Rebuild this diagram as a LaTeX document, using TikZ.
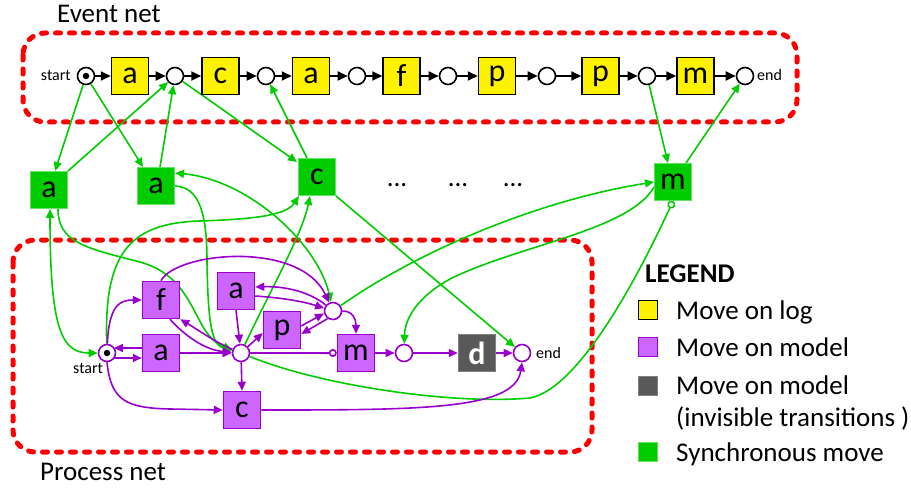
\documentclass[tikz,border=0pt]{standalone}
\usepackage{fontspec}
\setmainfont{Carlito}
\usetikzlibrary{arrows.meta,backgrounds}

\definecolor{synG}{RGB}{0,204,0}
\definecolor{modP}{RGB}{204,102,255}
\definecolor{modPd}{RGB}{153,0,204}
\definecolor{invG}{RGB}{89,89,89}
\definecolor{netR}{RGB}{255,0,0}

\tikzset{
  trans/.style={minimum size=37pt, inner sep=0pt, font=\fontsize{32}{32}\selectfont},
  logmove/.style={trans, fill=yellow, draw=black, line width=1.5pt},
  modmove/.style={trans, fill=modP, draw=modPd, line width=1.5pt},
  syncmove/.style={trans, fill=synG, draw=synG!60!white, line width=1pt},
  invmove/.style={trans, fill=invG, draw=gray, line width=1.5pt, text=white,
                  font=\fontsize{32}{32}\selectfont\bfseries},
  evplace/.style={circle, draw=black, fill=white, line width=1.6pt, minimum size=17pt, inner sep=0pt},
  prplace/.style={evplace, draw=modPd},
  token/.style={circle, fill=black, minimum size=6.5pt, inner sep=0pt},
  netbox/.style={draw=netR, line width=5pt, dash pattern=on 5pt off 9pt, line cap=round, rounded corners=22pt},
  lbl/.style={font=\fontsize{27}{30}\selectfont, inner sep=0pt},
  sml/.style={font=\fontsize{16}{18}\selectfont, inner sep=0pt},
  legsq/.style={minimum size=19pt, inner sep=0pt, line width=1.5pt},
  flowB/.style={-{Triangle[length=10pt,width=9pt]}, line width=1.8pt, black},
  flowG/.style={->, line width=1.6pt, synG},
  flowP/.style={->, line width=1.6pt, modPd},
}

\begin{document}
\begin{tikzpicture}[x=1pt, y=-1pt, >={Triangle[length=9pt,width=8pt]}]
\useasboundingbox (0,0) rectangle (911,492);

% ---------- event net ----------
\node[evplace] (e0) at (86,76) {};
\node[token] (e0tok) at (86,76) {};
\node[logmove] (t1) at (130,76) {a};
\node[evplace] (e1) at (175,76) {};
\node[logmove] (t2) at (220.5,76) {c};
\node[evplace] (e2) at (266,76) {};
\node[logmove] (t3) at (311,76) {a};
\node[evplace] (e3) at (357,76) {};
\node[logmove] (t4) at (401.5,76) {f};
\node[evplace] (e4) at (448,76) {};
\node[logmove] (t5) at (497,76) {p};
\node[evplace] (e5) at (547,76) {};
\node[logmove] (t6) at (600.5,76) {p};
\node[evplace] (e6) at (647,76) {};
\node[logmove] (t7) at (695.5,76) {m};
\node[evplace] (e7) at (745,76) {};
\node[sml, anchor=base east] (evstart) at (71,81) {start};
\node[sml, anchor=base west] (evend) at (757,81) {end};

% ---------- synchronous moves ----------
\node[syncmove] (sa1) at (49,190) {a};
\node[syncmove] (sa2) at (156,186) {a};
\node[syncmove] (sc) at (317,177) {c};
\node[syncmove] (sm) at (673,182) {m};
\node[lbl, anchor=base] (dots1) at (397,187) {...};
\node[lbl, anchor=base] (dots2) at (458,187) {...};
\node[lbl, anchor=base] (dots3) at (513,187) {...};

% ---------- process net ----------
\node[prplace] (ps) at (107,353) {};
\node[token] (pstok) at (107,353) {};
\node[modmove] (pf) at (161,300) {f};
\node[modmove] (pa) at (161,353) {a};
\node[prplace] (pc0) at (241,353) {};
\node[modmove] (pa2) at (236,291) {a};
\node[modmove] (pp) at (282,330) {p};
\node[modmove] (pcc) at (242,410) {c};
\node[prplace] (pq) at (333,311) {};
\node[modmove] (pm) at (356,353) {m};
\node[prplace] (pr) at (404,353) {};
\node[invmove] (pd) at (477,353) {d};
\node[prplace] (pe) at (522,353) {};
\node[sml, anchor=base west] (prstart) at (73,373) {start};
\node[sml, anchor=base west] (prend) at (536,358) {end};

% ---------- labels ----------
\node[lbl, anchor=base west] (evlabel) at (57,23) {Event net};
\node[lbl, anchor=base west] (prlabel) at (40,480) {Process net};

% ---------- legend ----------
\node[lbl, font=\fontsize{27}{30}\selectfont\bfseries, anchor=base west] (leghead) at (645,282) {LEGEND};
\node[legsq, fill=yellow, draw=black] (lg1) at (648,310) {};
\node[legsq, fill=modP, draw=modPd] (lg2) at (648,347) {};
\node[legsq, fill=invG, draw=gray] (lg3) at (648,386) {};
\node[legsq, fill=synG, draw=synG!60!white] (lg4) at (648,452) {};
\node[lbl, anchor=base west] (lt1) at (676,319) {Move on log};
\node[lbl, anchor=base west] (lt2) at (676,356) {Move on model};
\node[lbl, anchor=base west] (lt3) at (676,394) {Move on model};
\node[lbl, anchor=base west] (lt3b) at (676,426) {(invisible transitions )};
\node[lbl, anchor=base west] (lt4) at (676,461) {Synchronous move};

\begin{pgfonlayer}{background}
% dashed net outlines
\draw[netbox] (23,33) rectangle (797,122);
\draw[netbox] (13,240) rectangle (592,452);

% event net flow
\foreach \a/\b in {e0/t1,t1/e1,e1/t2,t2/e2,e2/t3,t3/e3,e3/t4,t4/e4,e4/t5,t5/e5,e5/t6,t6/e6,e6/t7,t7/e7}
  \draw[flowB] (\a) -- (\b);

% synchronous moves and event net
\draw[flowG] (e0) -- ([shift={(6,0)}]sa1.north);
\draw[flowG] (sa1.north east) -- (e1);
\draw[flowG] (e0) -- ([shift={(6,0)}]sa2.north west);
\draw[flowG] ([shift={(4,0)}]sa2.north) -- (e1);
\draw[flowG] (e1) -- ([shift={(-1,4)}]sc.north west);
\draw[flowG] ([shift={(-10,0)}]sc.north) -- (e2);
\draw[flowG] (e6) -- ([shift={(-5,0)}]sm.north);
\draw[flowG] ([shift={(13,0)}]sm.north) -- (e7);

% synchronous moves and process net
\draw[flowG, <->] ([shift={(1,0)}]sa1.south) .. controls (50,330) and (62,353) .. (ps.west);
\draw[flowG] ([shift={(9,0)}]sa1.south) .. controls (58,242) and (85,248) .. (140,262)
      .. controls (198,278) and (192,335) .. (pc0);
\draw[flowG] (sa2.east) .. controls (200,187) and (207,215) .. (207,262)
      .. controls (208,325) and (212,345) .. (pc0);
\draw[flowG, <->] ([shift={(0,-13)}]sa2.east) .. controls (250,180) and (318,245) .. (pq);
\draw[flowG] (pc0) .. controls (268,295) and (302,235) .. ([shift={(-7,0)}]sc.south);
\draw[flowG] (ps) .. controls (104,255) and (128,223) .. (200,221)
      .. controls (262,219) and (287,214) .. ([shift={(1,0)}]sc.south west);
\draw[flowG] (pq) .. controls (420,250) and (540,200) .. (sm.west);
\draw[flowG] ([shift={(0,-14)}]sm.south west) .. controls (630,230) and (520,245) .. (452,278)
      .. controls (418,296) and (405,318) .. (pr);
\draw[flowG] (sc.south east) -- (pe);
\draw[line width=1.6pt, synG, -{Circle[open,length=8pt,width=8pt]}]
      (pc0) .. controls (320,385) and (450,405) .. (530,398)
      .. controls (582,388) and (645,262) .. (sm.south);

% process net flow
\draw[flowP] (ps) .. controls (109,305) and (120,300) .. (pf.west);
\draw[flowP] ([shift={(6.9,5)}]ps.center) -- ([shift={(0,5)}]pa.west);
\draw[flowP] ([shift={(0,-5)}]pa.west) -- ([shift={(6.9,-5)}]ps.center);
\draw[flowP] (pa.east) -- (pc0);
\draw[flowP] ([shift={(9,0)}]pf.south) .. controls (185,336) and (205,350) .. (pc0);
\draw[flowP] (pc0) .. controls (215,342) and (195,328) .. (pf.south east);
\draw[flowP] (pf.north) .. controls (176,252) and (300,240) .. (pq);
\draw[flowP] (pa2.south) -- (pc0);
\draw[flowP] (pq) .. controls (310,292) and (285,286) .. ([shift={(0,-4)}]pa2.east);
\draw[flowP] ([shift={(0,5)}]pa2.east) .. controls (285,298) and (305,302) .. (pq);
\draw[flowP] (pq.235) -- ([shift={(0,4)}]pp.east);
\draw[flowP] ([shift={(0,-4)}]pp.east) -- (pq.195);
\draw[flowP] (pc0) -- ([shift={(0,3)}]pp.west);
\draw[flowP] (pc0) -- (pcc.north);
\draw[line width=1.6pt, modPd, -{Circle[open,length=8pt,width=8pt]}] (pc0) -- (pm.west);
\draw[flowP] (pq.east) .. controls (352,311) and (356,318) .. (pm.north);
\draw[flowP] (pm) -- (pr);
\draw[flowP] (pr) -- (pd);
\draw[flowP] (pd) -- (pe);
\draw[flowP] (pcc.east) .. controls (420,410) and (515,410) .. (pe.south);
\draw[flowP] (ps.south) .. controls (111,400) and (125,408) .. (170,409) -- (pcc.west);
\end{pgfonlayer}
\end{tikzpicture}
\end{document}
